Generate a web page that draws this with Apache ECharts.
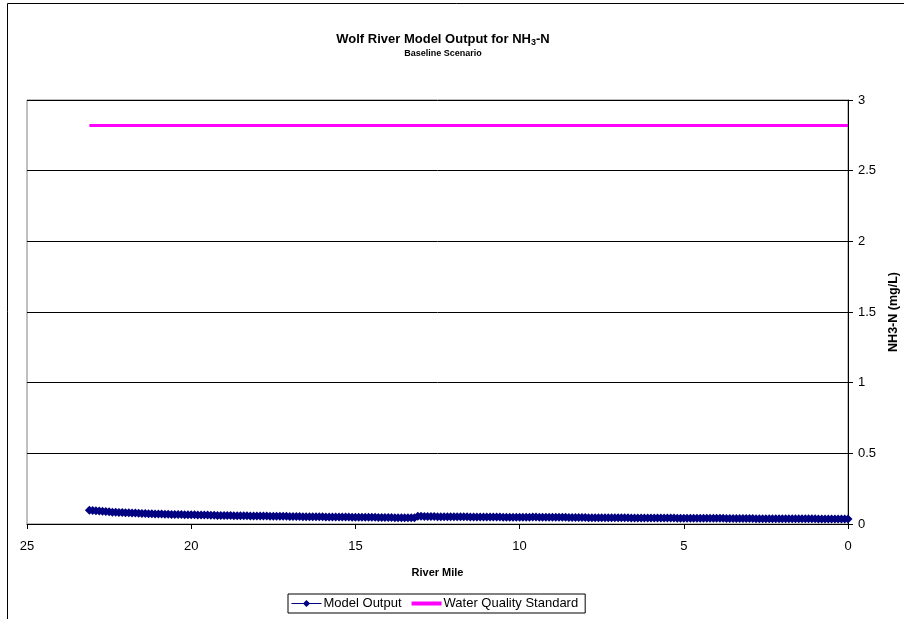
<!DOCTYPE html>
<html>
<head>
<meta charset="utf-8">
<script src="https://cdn.jsdelivr.net/npm/echarts@6/dist/echarts.min.js"></script>
<style>
  html, body { margin: 0; padding: 0; background: #fff; overflow: hidden; }
  #chart { width: 904px; height: 619px; }
</style>
</head>
<body>
<div id="chart"></div>
<script>
// River mile stations of the model output (upstream to mouth)
const modelMiles = [
  23.1,23.0,22.9,22.8,22.7,22.6,22.5,22.4,22.3,22.2,
  22.1,22.0,21.9,21.8,21.7,21.6,21.5,21.4,21.3,21.2,
  21.1,21.0,20.9,20.8,20.7,20.6,20.5,20.4,20.3,20.2,
  20.1,20.0,19.9,19.8,19.7,19.6,19.5,19.4,19.3,19.2,
  19.1,19.0,18.9,18.8,18.7,18.6,18.5,18.4,18.3,18.2,
  18.1,18.0,17.9,17.8,17.7,17.6,17.5,17.4,17.3,17.2,
  17.1,17.0,16.9,16.8,16.7,16.6,16.5,16.4,16.3,16.2,
  16.1,16.0,15.9,15.8,15.7,15.6,15.5,15.4,15.3,15.2,
  15.1,15.0,14.9,14.8,14.7,14.6,14.5,14.4,14.3,14.2,
  14.1,14.0,13.9,13.8,13.7,13.6,13.5,13.4,13.3,13.2,
  13.1,13.0,12.9,12.8,12.7,12.6,12.5,12.4,12.3,12.2,
  12.1,12.0,11.9,11.8,11.7,11.6,11.5,11.4,11.3,11.2,
  11.1,11.0,10.9,10.8,10.7,10.6,10.5,10.4,10.3,10.2,
  10.1,10.0,9.9,9.8,9.7,9.6,9.5,9.4,9.3,9.2,
  9.1,9.0,8.9,8.8,8.7,8.6,8.5,8.4,8.3,8.2,
  8.1,8.0,7.9,7.8,7.7,7.6,7.5,7.4,7.3,7.2,
  7.1,7.0,6.9,6.8,6.7,6.6,6.5,6.4,6.3,6.2,
  6.1,6.0,5.9,5.8,5.7,5.6,5.5,5.4,5.3,5.2,
  5.1,5.0,4.9,4.8,4.7,4.6,4.5,4.4,4.3,4.2,
  4.1,4.0,3.9,3.8,3.7,3.6,3.5,3.4,3.3,3.2,
  3.1,3.0,2.9,2.8,2.7,2.6,2.5,2.4,2.3,2.2,
  2.1,2.0,1.9,1.8,1.7,1.6,1.5,1.4,1.3,1.2,
  1.1,1.0,0.9,0.8,0.7,0.6,0.5,0.4,0.3,0.2,
  0.1,0.0
];

// Modelled NH3-N concentration (mg/L) at each station
const modelValues = [
  0.098,0.096,0.094,0.092,0.090,0.088,0.086,0.084,0.083,0.082,
  0.081,0.080,0.079,0.078,0.077,0.076,0.075,0.074,0.073,0.072,
  0.071,0.071,0.070,0.069,0.069,0.068,0.068,0.067,0.067,0.066,
  0.066,0.065,0.065,0.064,0.064,0.063,0.063,0.062,0.062,0.061,
  0.061,0.061,0.060,0.060,0.059,0.059,0.059,0.058,0.058,0.057,
  0.057,0.057,0.056,0.056,0.056,0.055,0.055,0.055,0.054,0.054,
  0.054,0.053,0.053,0.053,0.053,0.052,0.052,0.052,0.051,0.051,
  0.051,0.051,0.050,0.050,0.050,0.050,0.049,0.049,0.049,0.049,
  0.048,0.048,0.048,0.048,0.047,0.047,0.047,0.047,0.046,0.046,
  0.046,0.046,0.046,0.045,0.045,0.045,0.045,0.045,0.044,0.044,
  0.054,0.054,0.053,0.053,0.053,0.053,0.052,0.052,0.052,0.052,
  0.052,0.051,0.051,0.051,0.051,0.051,0.050,0.050,0.050,0.050,
  0.050,0.049,0.049,0.049,0.049,0.049,0.048,0.048,0.048,0.048,
  0.048,0.048,0.047,0.047,0.047,0.049,0.049,0.048,0.048,0.048,
  0.048,0.047,0.047,0.047,0.047,0.047,0.046,0.046,0.046,0.046,
  0.046,0.046,0.045,0.045,0.045,0.045,0.045,0.045,0.044,0.044,
  0.044,0.044,0.044,0.044,0.044,0.043,0.043,0.043,0.043,0.043,
  0.043,0.043,0.042,0.042,0.042,0.042,0.042,0.042,0.042,0.041,
  0.041,0.041,0.041,0.041,0.041,0.041,0.040,0.040,0.040,0.040,
  0.040,0.040,0.040,0.040,0.039,0.039,0.039,0.039,0.039,0.039,
  0.039,0.039,0.039,0.038,0.038,0.038,0.038,0.038,0.038,0.038,
  0.038,0.038,0.037,0.037,0.037,0.037,0.037,0.037,0.037,0.037,
  0.037,0.037,0.036,0.036,0.036,0.036,0.036,0.036,0.036,0.036,
  0.036,0.036
];

// Water quality standard (mg/L) over the modelled reach
const standardMiles = [23.1, 0.0];
const standardValues = [2.82, 2.82];

// Axis ranges
const xMin = 0, xMax = 25, xStep = 5;
const yMin = 0, yMax = 3, yStep = 0.5;

const FONT = '"Liberation Sans", Arial, sans-serif';
const NAVY = '#000080';
const MAGENTA = '#ff00ff';

const chart = echarts.init(document.getElementById('chart'));

chart.setOption({
  backgroundColor: '#ffffff',
  animation: false,
  textStyle: { fontFamily: FONT, color: '#000' },
  title: [{
    text: '{t|Wolf River Model Output for NH}{s|3}{t|-N}',
    left: 438, top: 26, textAlign: 'center',
    textStyle: {
      rich: {
        t: { fontFamily: FONT, fontSize: 13, fontWeight: 'bold', color: '#000' },
        s: { fontFamily: FONT, fontSize: 9, fontWeight: 'bold', color: '#000', padding: [7, 0, 0, 0] }
      }
    }
  }, {
    text: 'Baseline Scenario',
    left: 438, top: 44, textAlign: 'center',
    textStyle: { fontFamily: FONT, fontSize: 9, fontWeight: 'bold', color: '#000' }
  }],
  legend: {
    left: 288, top: 594,
    orient: 'horizontal',
    itemGap: 8,
    itemWidth: 30, itemHeight: 9,
    padding: [3, 7, 3, 3],
    borderColor: '#000', borderWidth: 1,
    textStyle: { fontFamily: FONT, fontSize: 13, color: '#000', padding: [0, 0, 0, -3] },
    data: [
      { name: 'Model Output', lineStyle: { width: 1 } },
      { name: 'Water Quality Standard', lineStyle: { width: 4 }, itemStyle: { opacity: 0 } }
    ]
  },
  graphic: [{
    type: 'rect',
    shape: { x: 7.5, y: 3.5, width: 1000, height: 1000 },
    style: { fill: null, stroke: '#000', lineWidth: 1 },
    silent: true
  }],
  grid: {
    left: 27, right: 56, top: 100, bottom: 95,
    outerBoundsMode: 'none',
    show: true, borderColor: '#808080', borderWidth: 1
  },
  xAxis: {
    type: 'value',
    min: xMin, max: xMax, interval: xStep,
    inverse: true,
    name: 'River Mile',
    nameLocation: 'middle', nameGap: 43,
    nameTextStyle: { fontFamily: FONT, fontSize: 11, fontWeight: 'bold', color: '#000' },
    axisLine: { show: true, lineStyle: { color: '#000', width: 1 } },
    axisTick: { show: true, length: 5, lineStyle: { color: '#000' } },
    axisLabel: { fontFamily: FONT, fontSize: 13, color: '#000', margin: 16 },
    splitLine: { show: false }
  },
  yAxis: {
    type: 'value',
    position: 'right',
    min: yMin, max: yMax, interval: yStep,
    name: 'NH3-N (mg/L)',
    nameLocation: 'middle', nameGap: 36, nameRotate: 90,
    nameTextStyle: { fontFamily: FONT, fontSize: 12.5, fontWeight: 'bold', color: '#000' },
    axisLine: { show: true, lineStyle: { color: '#000', width: 1 } },
    axisTick: { show: true, length: 5, lineStyle: { color: '#000' } },
    axisLabel: { fontFamily: FONT, fontSize: 13, color: '#000', margin: 10 },
    splitLine: { show: true, lineStyle: { color: '#000', width: 1 } }
  },
  series: [{
    name: 'Model Output',
    type: 'line',
    data: modelMiles.map((m, i) => [m, modelValues[i]]),
    symbol: 'diamond', symbolSize: 9, showAllSymbol: true,
    color: NAVY,
    lineStyle: { color: NAVY, width: 1 },
    itemStyle: { color: NAVY },
    z: 3
  }, {
    name: 'Water Quality Standard',
    type: 'line',
    data: standardMiles.map((m, i) => [m, standardValues[i]]),
    showSymbol: false,
    color: MAGENTA,
    lineStyle: { color: MAGENTA, width: 3 },
    z: 2
  }]
});
</script>
</body>
</html>
